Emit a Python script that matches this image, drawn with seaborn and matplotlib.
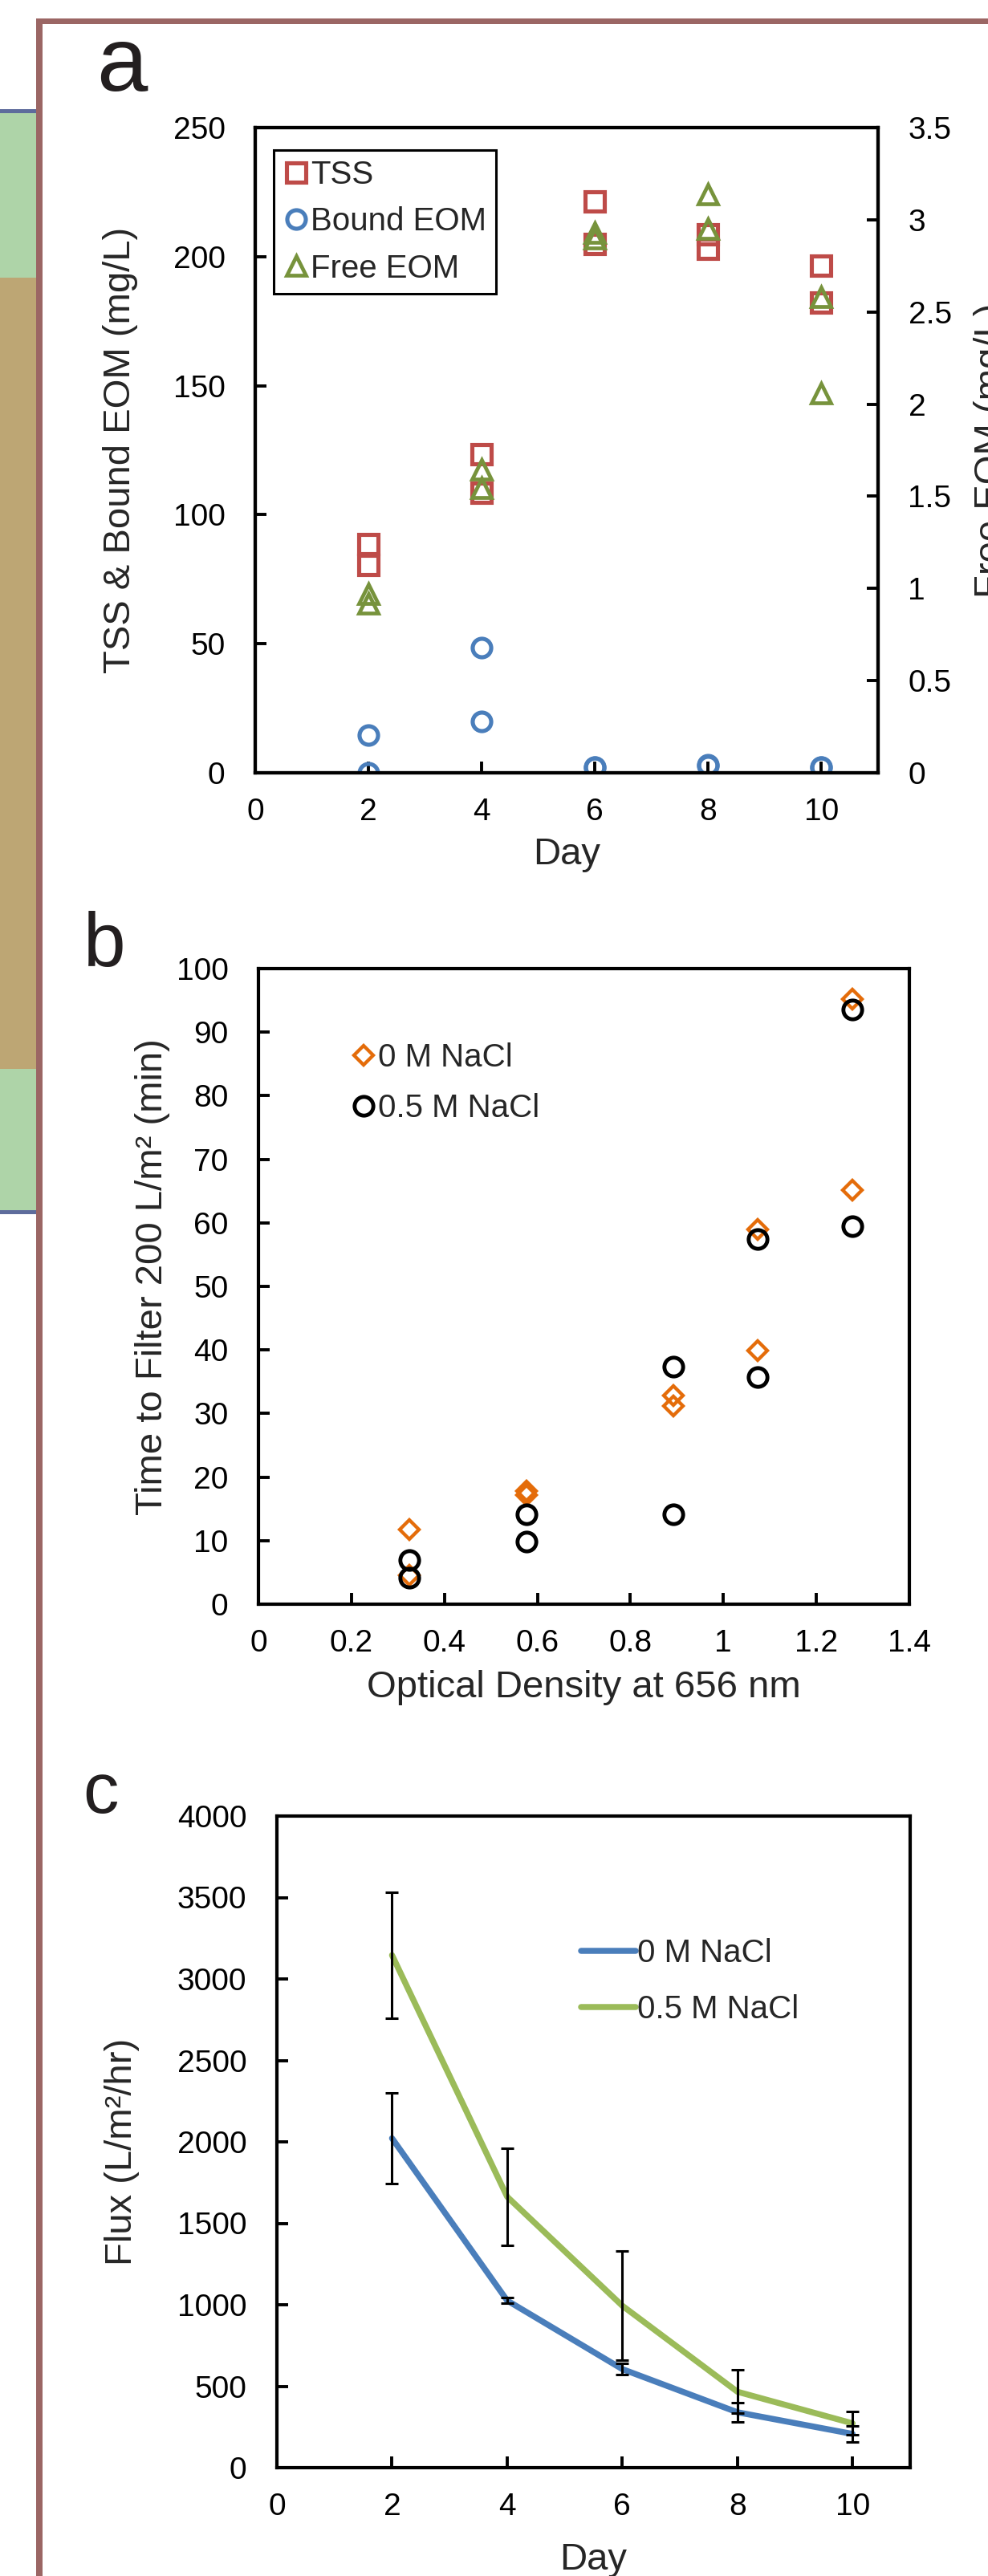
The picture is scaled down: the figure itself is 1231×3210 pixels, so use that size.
import matplotlib
matplotlib.use("Agg")
import matplotlib.pyplot as plt
from matplotlib.patches import Rectangle
import seaborn as sns

W, H = 1231, 3210

# panel a: TSS, bound and free EOM by day
day_a = [2, 2, 4, 4, 6, 6, 8, 8, 10, 10]
tss = [88.6, 80.4, 123.6, 108.5, 221.4, 204.8, 208.6, 203.2, 196.6, 182.3]
bound_eom = [14.6, 0.0, 48.4, 19.8, 2.3, 2.1, 3.0, 2.8, 2.3, 2.2]
free_eom = [0.97, 0.92, 1.645, 1.545, 2.93, 2.90, 3.14, 2.95, 2.58, 2.06]

# panel b: time to filter vs optical density
od = [0.324, 0.324, 0.577, 0.577, 0.893, 0.893, 1.074, 1.074, 1.277, 1.277]
time_0m = [11.7, 4.6, 17.8, 17.2, 32.8, 31.2, 59.0, 39.9, 95.2, 65.2]
time_05m = [7.0, 4.2, 14.2, 9.8, 37.4, 14.2, 57.4, 35.7, 93.5, 59.5]

# panel c: flux by day
day_c = [2, 4, 6, 8, 10]
flux_0m = [2022, 1026, 605, 340, 207]
flux_0m_err = [280, 18, 35, 60, 50]
flux_05m = [3146, 1663, 994, 466, 272]
flux_05m_err = [387, 300, 335, 133, 71]

sns.set_theme(style="white")
plt.rcParams["font.family"] = ["Liberation Sans", "DejaVu Sans"]
plt.rcParams["axes.edgecolor"] = "black"

TICK_FS = 28
LABEL_FS = 34
LEG_FS = 29
SPINE_W = 3.0


def px_axes(fig, left, top, right, bottom):
    return fig.add_axes([left / W, 1 - bottom / H, (right - left) / W, (bottom - top) / H])


def style_axis(ax, xpad=22, ypad=27):
    ax.tick_params(direction="in", length=10, width=2.8, labelsize=TICK_FS,
                   colors="black", bottom=True, left=True)
    ax.tick_params(axis="x", pad=xpad)
    ax.tick_params(axis="y", pad=ypad)
    for s in ax.spines.values():
        s.set_visible(True)
        s.set_color("black")
        s.set_linewidth(SPINE_W)


def open_markers(ax, x, y, marker, ms, color, mew, label, zorder=3):
    # markers only, no connecting line, every replicate drawn
    sns.lineplot(x=x, y=y, ax=ax, estimator=None, sort=False, errorbar=None,
                 linestyle="none", marker=marker, markersize=ms,
                 markerfacecolor="none", markeredgecolor=color,
                 markeredgewidth=mew, color=color, label=label, zorder=zorder)


def fmt(v):
    return f"{v:g}"


fig = plt.figure(figsize=(W / 100, H / 100), dpi=100)
fig.patch.set_facecolor("white")


# screenshot remnants: left strip and frame
def fig_rect(x0, y0, x1, y1, color):
    fig.add_artist(Rectangle((x0 / W, 1 - y1 / H), (x1 - x0) / W, (y1 - y0) / H,
                             transform=fig.transFigure, color=color, lw=0, zorder=0))


fig_rect(0, 136, 45, 141, "#5e6c9c")
fig_rect(0, 141, 45, 346, "#aed4a8")
fig_rect(0, 346, 45, 1332, "#bda674")
fig_rect(0, 1332, 45, 1508, "#aed4a8")
fig_rect(0, 1508, 45, 1513, "#5e6c9c")
fig_rect(45, 23, 53, H, "#9b6664")
fig_rect(45, 23, W, 30, "#9b6664")

# ---- panel a ----
ax = px_axes(fig, 318, 159, 1094, 963)
ax2 = ax.twinx()
open_markers(ax, day_a, tss, "s", 17.2, "#BE4B48", 3.7, "TSS")
open_markers(ax, day_a, bound_eom, "o", 16.6, "#4A7EBB", 3.7, "Bound EOM")
open_markers(ax2, day_a, free_eom, "^", 16.8, "#77933C", 3.4, "Free EOM")
ax.set_xlim(0, 11)
ax.set_ylim(0, 250)
ax2.set_ylim(0, 3.5)
ax.set_xticks(range(0, 11, 2))
ax.set_yticks(range(0, 251, 50))
ax2.set_yticks([i * 0.5 for i in range(8)])
ax2.set_yticklabels([fmt(i * 0.5) for i in range(8)])
style_axis(ax)
style_axis(ax2)
ax2.tick_params(axis="y", right=True, left=False, direction="in", pad=27)
ax.set_xlabel("Day", fontsize=LABEL_FS, va="center")
ax.xaxis.set_label_coords(0.5, -0.127)
ax.set_ylabel("TSS & Bound EOM (mg/L)", fontsize=LABEL_FS, va="center")
ax.yaxis.set_label_coords(-0.2165, 0.5)
ax2.set_ylabel("Free EOM (mg/L)", fontsize=LABEL_FS, va="center", rotation=90)
ax2.yaxis.set_label_coords(1.182, 0.5)
if ax.get_legend():
    ax.get_legend().remove()
if ax2.get_legend():
    ax2.get_legend().remove()
h1, l1 = ax.get_legend_handles_labels()
h2, l2 = ax2.get_legend_handles_labels()
leg = ax2.legend(h1 + h2, l1 + l2, loc="upper left", bbox_to_anchor=(0.0296, 0.965),
                 fontsize=LEG_FS, frameon=True, fancybox=False, framealpha=1,
                 edgecolor="black", handlelength=0.8, handletextpad=0.05,
                 labelspacing=0.5, borderpad=0.3, borderaxespad=0, numpoints=1)
leg.get_frame().set_linewidth(2.2)
fig.text(120 / W, 1 - 113 / H, "a", fontsize=82, color="#231f20", va="baseline", ha="left")

# ---- panel b ----
bx = px_axes(fig, 322, 1207, 1133, 1999)
open_markers(bx, od, time_0m, "D", 12.4, "#E46C0A", 3.1, "0 M NaCl")
open_markers(bx, od, time_05m, "o", 16.8, "black", 3.5, "0.5 M NaCl", zorder=4)
bx.set_xlim(0, 1.4)
bx.set_ylim(0, 100)
xt = [i * 0.2 for i in range(8)]
bx.set_xticks(xt)
bx.set_xticklabels([fmt(round(v, 1)) for v in xt])
bx.set_yticks(range(0, 101, 10))
style_axis(bx)
bx.set_xlabel("Optical Density at 656 nm", fontsize=LABEL_FS, va="center")
bx.xaxis.set_label_coords(0.5, -0.131)
bx.set_ylabel("Time to Filter 200 L/m\u00b2 (min)", fontsize=LABEL_FS, va="center")
bx.yaxis.set_label_coords(-0.163, 0.515)
bx.legend(loc="upper left", bbox_to_anchor=(0.142, 0.884), fontsize=LEG_FS, frameon=False,
          handlelength=0.8, handletextpad=0.05, labelspacing=0.62, borderpad=0,
          borderaxespad=0, numpoints=1)
fig.text(104 / W, 1 - 1204 / H, "b", fontsize=68, color="#231f20", va="baseline", ha="left")

# ---- panel c ----
cx = px_axes(fig, 345, 2263, 1134, 3075)
sns.lineplot(x=day_c, y=flux_0m, ax=cx, color="#4A7EBB", linewidth=5.4,
             label="0 M NaCl", solid_capstyle="round")
sns.lineplot(x=day_c, y=flux_05m, ax=cx, color="#9BBB59", linewidth=5.4,
             label="0.5 M NaCl", solid_capstyle="round")
cx.errorbar(day_c, flux_0m, yerr=flux_0m_err, fmt="none", ecolor="black",
            elinewidth=2.2, capsize=6, capthick=2.2, zorder=5)
cx.errorbar(day_c, flux_05m, yerr=flux_05m_err, fmt="none", ecolor="black",
            elinewidth=2.2, capsize=6, capthick=2.2, zorder=5)
cx.set_xlim(0, 11)
cx.set_ylim(0, 4000)
cx.set_xticks(range(0, 11, 2))
cx.set_yticks(range(0, 4001, 500))
style_axis(cx)
cx.set_xlabel("Day", fontsize=LABEL_FS, va="center")
cx.xaxis.set_label_coords(0.5, -0.142)
cx.set_ylabel("Flux (L/m\u00b2/hr)", fontsize=LABEL_FS, va="center")
cx.yaxis.set_label_coords(-0.245, 0.485)
cx.legend(loc="upper left", bbox_to_anchor=(0.480, 0.813), fontsize=LEG_FS, frameon=False,
          handlelength=1.7, handletextpad=0.05, labelspacing=0.8, borderpad=0,
          borderaxespad=0)
fig.text(103 / W, 1 - 2259 / H, "c", fontsize=64, color="#231f20", va="baseline", ha="left")

fig.savefig("out.png", dpi=100)
